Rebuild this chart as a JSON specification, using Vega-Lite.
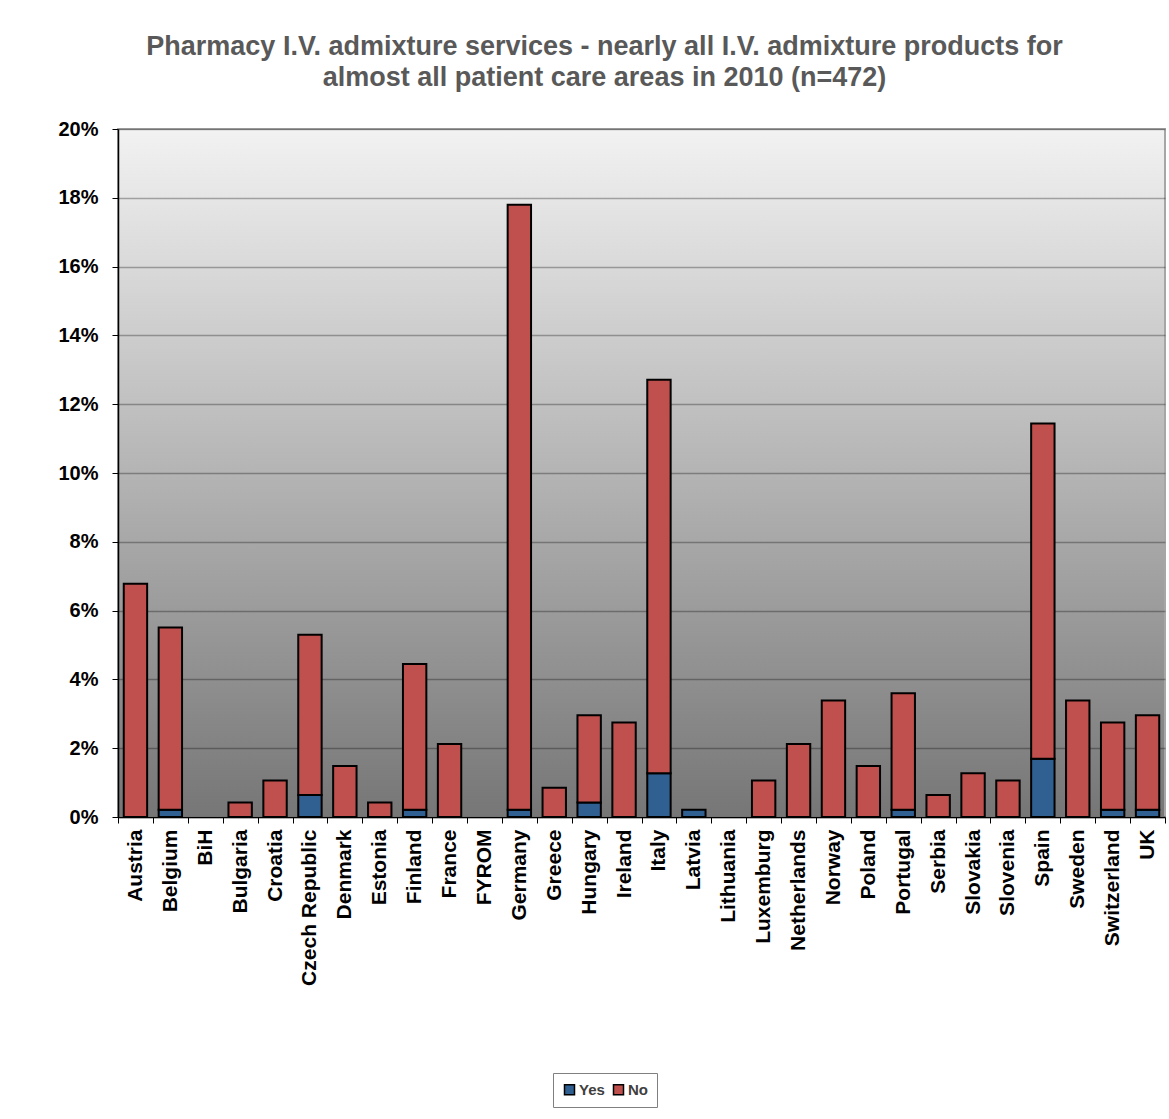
{
  "$schema": "https://vega.github.io/schema/vega-lite/v6.json",
  "width": 1047,
  "height": 688,
  "autosize": "none",
  "padding": {"left": 118, "top": 129, "right": 4, "bottom": 302},
  "background": "white",
  "view": {
    "fill": {"gradient": "linear", "x1": 0, "y1": 0, "x2": 0, "y2": 1, "stops": [{"offset": 0, "color": "#f2f2f2"}, {"offset": 1, "color": "#767676"}]},
    "stroke": "#a6a6a6",
    "strokeWidth": 2
  },
  "title": {
    "text": ["Pharmacy I.V. admixture services - nearly all I.V. admixture products for", "almost all patient care areas in 2010 (n=472)"],
    "font": "Liberation Sans",
    "fontSize": 27,
    "fontWeight": "bold",
    "color": "#595959",
    "anchor": "middle",
    "frame": "group",
    "dx": -37,
    "offset": 27,
    "lineHeight": 31
  },
  "data": {
    "values": [
      {"country": "Austria", "answer": "No", "pct": 0.0678},
      {"country": "Belgium", "answer": "Yes", "pct": 0.0021},
      {"country": "Belgium", "answer": "No", "pct": 0.0530},
      {"country": "Bulgaria", "answer": "No", "pct": 0.0042},
      {"country": "Croatia", "answer": "No", "pct": 0.0106},
      {"country": "Czech Republic", "answer": "Yes", "pct": 0.0064},
      {"country": "Czech Republic", "answer": "No", "pct": 0.0466},
      {"country": "Denmark", "answer": "No", "pct": 0.0148},
      {"country": "Estonia", "answer": "No", "pct": 0.0042},
      {"country": "Finland", "answer": "Yes", "pct": 0.0021},
      {"country": "Finland", "answer": "No", "pct": 0.0424},
      {"country": "France", "answer": "No", "pct": 0.0212},
      {"country": "Germany", "answer": "Yes", "pct": 0.0021},
      {"country": "Germany", "answer": "No", "pct": 0.1759},
      {"country": "Greece", "answer": "No", "pct": 0.0085},
      {"country": "Hungary", "answer": "Yes", "pct": 0.0042},
      {"country": "Hungary", "answer": "No", "pct": 0.0254},
      {"country": "Ireland", "answer": "No", "pct": 0.0275},
      {"country": "Italy", "answer": "Yes", "pct": 0.0127},
      {"country": "Italy", "answer": "No", "pct": 0.1144},
      {"country": "Latvia", "answer": "Yes", "pct": 0.0021},
      {"country": "Luxemburg", "answer": "No", "pct": 0.0106},
      {"country": "Netherlands", "answer": "No", "pct": 0.0212},
      {"country": "Norway", "answer": "No", "pct": 0.0339},
      {"country": "Poland", "answer": "No", "pct": 0.0148},
      {"country": "Portugal", "answer": "Yes", "pct": 0.0021},
      {"country": "Portugal", "answer": "No", "pct": 0.0339},
      {"country": "Serbia", "answer": "No", "pct": 0.0064},
      {"country": "Slovakia", "answer": "No", "pct": 0.0127},
      {"country": "Slovenia", "answer": "No", "pct": 0.0106},
      {"country": "Spain", "answer": "Yes", "pct": 0.0169},
      {"country": "Spain", "answer": "No", "pct": 0.0975},
      {"country": "Sweden", "answer": "No", "pct": 0.0339},
      {"country": "Switzerland", "answer": "Yes", "pct": 0.0021},
      {"country": "Switzerland", "answer": "No", "pct": 0.0254},
      {"country": "UK", "answer": "Yes", "pct": 0.0021},
      {"country": "UK", "answer": "No", "pct": 0.0275}
    ]
  },
  "mark": {"type": "bar", "stroke": "black", "strokeWidth": 2, "width": {"band": 0.67}},
  "encoding": {
    "x": {
      "field": "country",
      "type": "nominal",
      "scale": {
        "domain": ["Austria", "Belgium", "BiH", "Bulgaria", "Croatia", "Czech Republic", "Denmark", "Estonia", "Finland", "France", "FYROM", "Germany", "Greece", "Hungary", "Ireland", "Italy", "Latvia", "Lithuania", "Luxemburg", "Netherlands", "Norway", "Poland", "Portugal", "Serbia", "Slovakia", "Slovenia", "Spain", "Sweden", "Switzerland", "UK"],
        "paddingInner": 0,
        "paddingOuter": 0
      },
      "axis": {
        "title": null,
        "labelAngle": -90,
        "labelFont": "Liberation Sans",
        "labelFontSize": 21,
        "labelFontWeight": "bold",
        "labelColor": "black",
        "labelPadding": 6,
        "tickBand": "extent",
        "tickColor": "black",
        "tickSize": 6,
        "domainColor": "black",
        "domainWidth": 1.5,
        "grid": false
      }
    },
    "y": {
      "field": "pct",
      "type": "quantitative",
      "stack": "zero",
      "scale": {"domain": [0, 0.2], "nice": false},
      "axis": {
        "title": null,
        "format": ".0%",
        "values": [0, 0.02, 0.04, 0.06, 0.08, 0.1, 0.12, 0.14, 0.16, 0.18, 0.2],
        "labelFont": "Liberation Sans",
        "labelFontSize": 20,
        "labelFontWeight": "bold",
        "labelColor": "black",
        "labelPadding": 14,
        "tickColor": "black",
        "tickSize": 6,
        "domainColor": "black",
        "domainWidth": 1.5,
        "grid": true,
        "gridColor": "#000000",
        "gridOpacity": 0.3,
        "gridWidth": 1.5
      }
    },
    "color": {
      "field": "answer",
      "type": "nominal",
      "scale": {"domain": ["Yes", "No"], "range": ["#305f91", "#c0504d"]},
      "legend": {
        "title": null,
        "orient": "none",
        "legendX": 435,
        "legendY": 944,
        "direction": "horizontal",
        "strokeColor": "#808080",
        "padding": 9,
        "symbolType": "square",
        "symbolSize": 100,
        "symbolStrokeColor": "black",
        "symbolStrokeWidth": 1.5,
        "symbolOpacity": 1,
        "labelFont": "Liberation Sans",
        "labelFontSize": 15,
        "labelFontWeight": "bold",
        "labelColor": "#404040",
        "labelOffset": 2,
        "columnPadding": 5
      }
    },
    "order": {"field": "answer", "sort": "descending"}
  }
}
